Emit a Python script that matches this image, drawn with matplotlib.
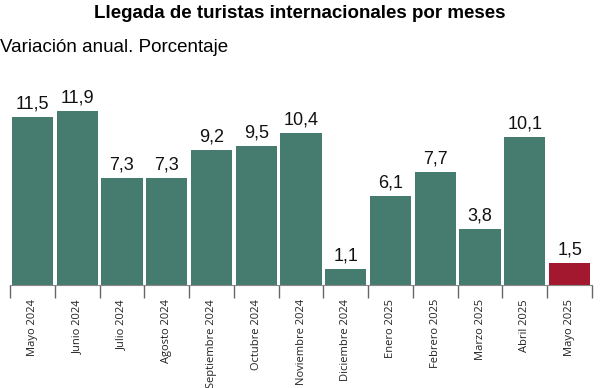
import matplotlib.pyplot as plt

meses = ["Mayo 2024", "Junio 2024", "Julio 2024", "Agosto 2024", "Septiembre 2024",
         "Octubre 2024", "Noviembre 2024", "Diciembre 2024", "Enero 2025",
         "Febrero 2025", "Marzo 2025", "Abril 2025", "Mayo 2025"]
variacion = [11.5, 11.9, 7.3, 7.3, 9.2, 9.5, 10.4, 1.1, 6.1, 7.7, 3.8, 10.1, 1.5]

verde = "#467b70"
rojo = "#a3182f"
colores = [verde] * (len(meses) - 1) + [rojo]

plt.rcParams["font.family"] = ["Liberation Sans", "DejaVu Sans"]

fig = plt.figure(figsize=(6, 3.88), dpi=100)
ax = fig.add_axes([10 / 600, 103 / 388, 582 / 600, 205 / 388])

x = list(range(len(meses)))
ax.bar(x, variacion, width=0.92, color=colores)

# etiquetas de valor
for i, v in enumerate(variacion):
    ax.text(i, v + 0.3, f"{v:.1f}".replace(".", ","), ha="center", va="bottom",
            fontsize=13, color="#111111")

ax.set_xlim(-0.5, len(meses) - 0.5)
ax.set_ylim(0, 14)

# ticks en los bordes de cada mes
ax.set_xticks([i - 0.5 for i in range(len(meses) + 1)])
ax.set_xticklabels([])
ax.tick_params(axis="x", length=9, color="#666666", width=1)
ax.set_xticks(x, minor=True)
ax.set_xticklabels(meses, minor=True, rotation=90, fontsize=8,
                   family=["Open Sans", "DejaVu Sans"], color="#222222")
ax.tick_params(axis="x", which="minor", length=0, pad=10)

ax.set_yticks([])
for s in ["top", "left", "right"]:
    ax.spines[s].set_visible(False)
ax.spines["bottom"].set_color("#888888")
ax.spines["bottom"].set_linewidth(0.8)

fig.text(0.5, 1 - 14 / 388, "Llegada de turistas internacionales por meses",
         ha="center", va="center", fontsize=13.5, fontweight="bold")
fig.text(0.0, 1 - 47 / 388, "Variación anual. Porcentaje", ha="left", va="center",
         fontsize=13.5)

fig.savefig("out.png", dpi=100)
